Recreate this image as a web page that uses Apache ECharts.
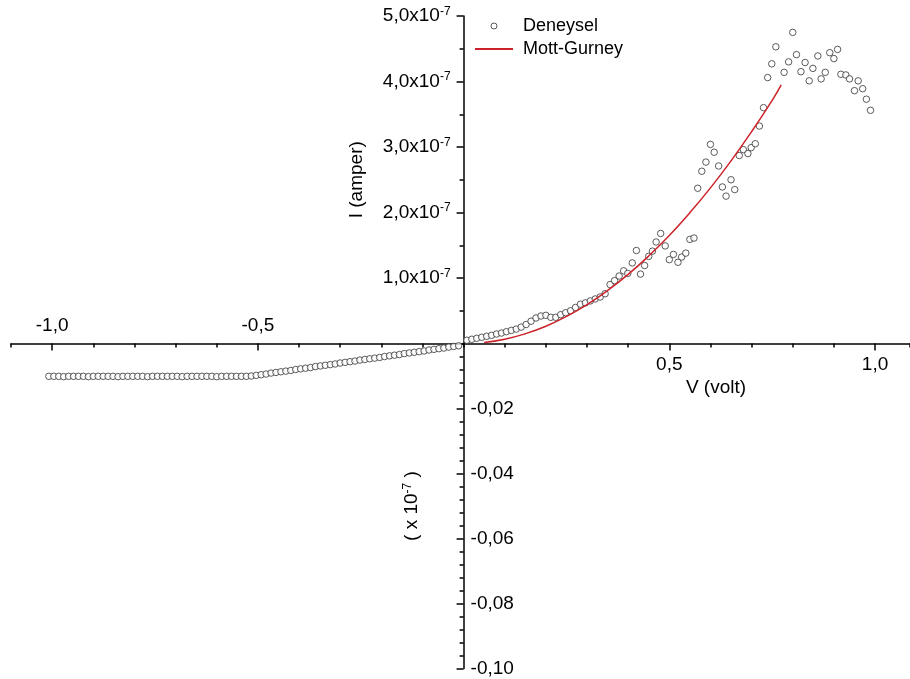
<!DOCTYPE html>
<html><head><meta charset="utf-8">
<script src="https://cdn.jsdelivr.net/npm/echarts@6/dist/echarts.min.js"></script>
<style>html,body{margin:0;padding:0;background:#fff}#c{width:910px;height:679px}</style>
</head><body><div id="c"></div>
<script>
// Measured data, reverse bias (current in units of 1e-7 A)
const negV = [-1.008,-0.996,-0.984,-0.972,-0.960,-0.948,-0.936,-0.924,-0.912,-0.900,-0.888,-0.876,-0.864,-0.852,-0.840,-0.828,-0.816,-0.804,-0.792,-0.780,-0.768,-0.756,-0.744,-0.732,-0.720,-0.708,-0.696,-0.684,-0.672,-0.660,-0.648,-0.636,-0.624,-0.612,-0.600,-0.588,-0.576,-0.564,-0.552,-0.540,-0.528,-0.516,-0.504,-0.492,-0.480,-0.468,-0.456,-0.444,-0.432,-0.420,-0.408,-0.396,-0.384,-0.372,-0.360,-0.348,-0.336,-0.324,-0.312,-0.300,-0.288,-0.276,-0.264,-0.252,-0.240,-0.228,-0.216,-0.204,-0.192,-0.180,-0.168,-0.156,-0.144,-0.132,-0.120,-0.108,-0.096,-0.084,-0.072,-0.060,-0.048,-0.036,-0.024,-0.012];
const negI = [-0.0101,-0.0101,-0.0101,-0.0102,-0.0101,-0.0101,-0.0101,-0.0101,-0.0102,-0.0101,-0.0101,-0.0101,-0.0101,-0.0101,-0.0102,-0.0101,-0.0101,-0.0101,-0.0101,-0.0101,-0.0102,-0.0101,-0.0101,-0.0101,-0.0101,-0.0101,-0.0101,-0.0102,-0.0101,-0.0101,-0.0101,-0.0101,-0.0101,-0.0101,-0.0102,-0.0101,-0.0101,-0.0101,-0.0101,-0.0101,-0.0101,-0.0100,-0.0098,-0.0096,-0.0094,-0.0091,-0.0089,-0.0087,-0.0085,-0.0083,-0.0080,-0.0078,-0.0076,-0.0074,-0.0071,-0.0069,-0.0067,-0.0065,-0.0063,-0.0060,-0.0058,-0.0056,-0.0054,-0.0051,-0.0049,-0.0047,-0.0045,-0.0043,-0.0040,-0.0038,-0.0036,-0.0034,-0.0031,-0.0029,-0.0027,-0.0025,-0.0023,-0.0020,-0.0018,-0.0016,-0.0014,-0.0011,-0.0009,-0.0007];
// Measured data, forward bias (current in units of 1e-7 A)
const posV = [0.008,0.020,0.032,0.044,0.056,0.068,0.080,0.092,0.104,0.116,0.128,0.140,0.152,0.164,0.176,0.188,0.200,0.212,0.224,0.236,0.248,0.260,0.272,0.284,0.296,0.308,0.320,0.332,0.344,0.356,0.367,0.378,0.389,0.399,0.410,0.420,0.430,0.440,0.450,0.459,0.468,0.479,0.490,0.500,0.510,0.521,0.530,0.540,0.550,0.560,0.569,0.579,0.589,0.600,0.609,0.620,0.629,0.638,0.650,0.659,0.670,0.680,0.691,0.699,0.709,0.719,0.729,0.739,0.749,0.759,0.779,0.790,0.800,0.809,0.820,0.830,0.840,0.849,0.861,0.869,0.879,0.890,0.900,0.909,0.917,0.929,0.938,0.950,0.959,0.970,0.979,0.989];
const posI = [0.05,0.065,0.08,0.095,0.11,0.125,0.145,0.16,0.18,0.20,0.22,0.25,0.29,0.34,0.39,0.42,0.43,0.40,0.40,0.44,0.47,0.50,0.55,0.60,0.62,0.65,0.68,0.71,0.76,0.90,0.96,1.03,1.11,1.07,1.23,1.42,1.06,1.19,1.33,1.41,1.55,1.68,1.49,1.28,1.36,1.24,1.32,1.38,1.59,1.61,2.37,2.63,2.77,3.04,2.92,2.71,2.39,2.25,2.50,2.35,2.87,2.96,2.90,2.99,3.05,3.32,3.60,4.06,4.27,4.53,4.14,4.30,4.75,4.41,4.15,4.29,4.01,4.20,4.39,4.04,4.14,4.44,4.35,4.49,4.11,4.10,4.04,3.86,4.01,3.89,3.73,3.56];
// Mott-Gurney fit curve (units of 1e-7 A)
const fitV = [0.05,0.10,0.15,0.20,0.25,0.30,0.35,0.40,0.45,0.50,0.55,0.60,0.65,0.70,0.75,0.772];
const fitI = [0.017,0.066,0.149,0.264,0.413,0.594,0.809,1.056,1.337,1.65,1.997,2.376,2.789,3.234,3.713,3.95];
// Tick labels
const xPosTicks = [0.5, 1.0];
const xNegTicks = [-1.0, -0.5];
const xMajorTicks = [-1.0, -0.5, 0.5, 1.0];

const zip = (a, b) => a.map((v, i) => [v, b[i]]);
const FONT = '"Liberation Sans", Arial, sans-serif';
const FS = 19;
const comma = (v, d) => v.toFixed(d).replace('.', ',');
const axisLineStyle = { color: '#000', width: 1.5 };

const GRID_LEFT = 11, GRID_W = 899, X_MIN = -1.1, X_MAX = 1.085;
const Y_OFFSET = -(GRID_W * (0 - X_MIN) / (X_MAX - X_MIN)); // put y axes at V = 0

const supRich = { sup: { fontSize: 12, color: '#000', fontFamily: FONT, verticalAlign: 'bottom', padding: [0, 0, 9, 0] } };

const chart = echarts.init(document.getElementById('c'));
chart.setOption({
  animation: false,
  backgroundColor: '#fff',
  textStyle: { fontFamily: FONT },
  grid: [
    { left: GRID_LEFT, width: GRID_W, top: 16, height: 327.5, containLabel: false, outerBoundsMode: 'none' },
    { left: GRID_LEFT, width: GRID_W, top: 343.5, height: 325, containLabel: false, outerBoundsMode: 'none' }
  ],
  xAxis: [
    { gridIndex: 0, type: 'value', min: X_MIN, max: X_MAX, interval: 0.1, position: 'bottom',
      axisLine: { onZero: false, lineStyle: axisLineStyle },
      axisTick: { length: 4, lineStyle: axisLineStyle },
      axisLabel: { show: false }, splitLine: { show: false } },
    { gridIndex: 0, type: 'value', min: X_MIN, max: X_MAX, interval: 0.1, position: 'bottom',
      axisLine: { show: false, onZero: false },
      axisTick: { customValues: xMajorTicks, length: 7, lineStyle: axisLineStyle },
      axisLabel: { customValues: xPosTicks, margin: 12, fontSize: FS, color: '#000', fontFamily: FONT, formatter: v => comma(v, 1) },
      splitLine: { show: false } },
    { gridIndex: 0, type: 'value', min: X_MIN, max: X_MAX, interval: 0.1, position: 'bottom',
      axisLine: { show: false, onZero: false }, axisTick: { show: false },
      axisLabel: { customValues: xNegTicks, inside: true, margin: 8, fontSize: FS, color: '#000', fontFamily: FONT, formatter: v => comma(v, 1) },
      splitLine: { show: false } },
    { gridIndex: 1, type: 'value', min: X_MIN, max: X_MAX, show: false, splitLine: { show: false } }
  ],
  yAxis: [
    { gridIndex: 0, type: 'value', min: 0, max: 5, interval: 1, position: 'left', offset: Y_OFFSET,
      axisLine: { show: true, onZero: false, lineStyle: axisLineStyle },
      axisTick: { show: true, length: 7, lineStyle: axisLineStyle },
      minorTick: { show: true, splitNumber: 2, length: 4, lineStyle: axisLineStyle },
      axisLabel: { margin: 13, fontSize: FS, color: '#000', fontFamily: FONT,
        formatter: v => v === 0 ? '' : comma(v, 1) + 'x10{sup|-7}', rich: supRich },
      splitLine: { show: false },
      name: 'I (amper)', nameLocation: 'middle', nameRotate: 90, nameGap: 97,
      nameTextStyle: { fontSize: FS, color: '#000', fontFamily: FONT } },
    { gridIndex: 1, type: 'value', min: -0.1, max: 0, interval: 0.02, position: 'left', offset: Y_OFFSET,
      axisLine: { show: true, onZero: false, lineStyle: axisLineStyle },
      axisTick: { show: true, length: 7, lineStyle: axisLineStyle },
      minorTick: { show: true, splitNumber: 5, length: 4, lineStyle: axisLineStyle },
      axisLabel: { inside: true, margin: 7, fontSize: FS, color: '#000', fontFamily: FONT,
        formatter: v => v === 0 ? '' : comma(v, 2) },
      splitLine: { show: false },
      name: '( x 10{sup|-7} )', nameLocation: 'middle', nameRotate: 90, nameGap: 41,
      nameTextStyle: { fontSize: FS, color: '#000', fontFamily: FONT, rich: supRich } }
  ],
  legend: {
    orient: 'vertical', left: 474, top: 17, padding: 0, itemWidth: 38, itemHeight: 6, itemGap: 5,
    data: [
      { name: 'Deneysel', itemStyle: { borderWidth: 1 } },
      { name: 'Mott-Gurney', itemStyle: { opacity: 0 } }
    ],
    textStyle: { fontSize: 18, color: '#000', fontFamily: FONT, padding: [0, 0, 0, 5] }
  },
  graphic: [
    { type: 'text', x: 716, y: 388,
      style: { text: 'V (volt)', fontSize: FS, fontFamily: FONT, fill: '#000', align: 'center', verticalAlign: 'middle' } }
  ],
  series: [
    { name: 'Deneysel', type: 'scatter', xAxisIndex: 0, yAxisIndex: 0, data: zip(posV, posI),
      symbol: 'circle', symbolSize: 6.5, itemStyle: { color: '#fff', borderColor: '#333', borderWidth: 1 }, z: 2 },
    { name: 'Deneysel', type: 'scatter', xAxisIndex: 3, yAxisIndex: 1, data: zip(negV, negI),
      symbol: 'circle', symbolSize: 6.5, itemStyle: { color: '#fff', borderColor: '#333', borderWidth: 1 }, z: 2 },
    { name: 'Mott-Gurney', type: 'line', xAxisIndex: 0, yAxisIndex: 0, data: zip(fitV, fitI),
      smooth: true, symbol: 'none', lineStyle: { color: '#cc2229', width: 1.5 }, itemStyle: { color: '#cc2229' }, z: 3 }
  ]
});
</script>
</body></html>
